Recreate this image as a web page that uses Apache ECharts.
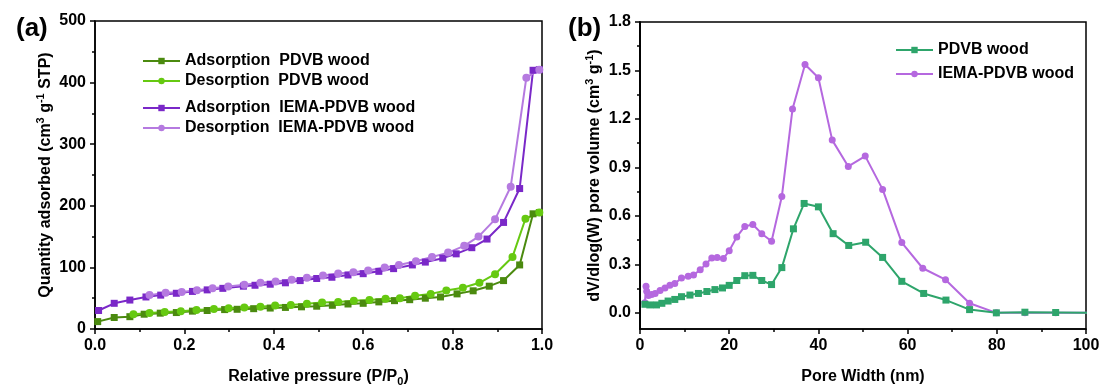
<!DOCTYPE html>
<html>
<head>
<meta charset="utf-8">
<script src="https://cdn.jsdelivr.net/npm/echarts@6/dist/echarts.min.js"></script>
<style>
html, body { margin: 0; padding: 0; background: #fff; }
#chart { width: 1103px; height: 392px; }
</style>
</head>
<body>
<div id="chart"></div>
<script>
// (a) isotherms, relative pressure vs quantity adsorbed
var pdvbAdsX = [0.006, 0.043, 0.078, 0.11, 0.146, 0.182, 0.218, 0.251, 0.29, 0.318, 0.355, 0.392, 0.426, 0.462, 0.496, 0.531, 0.566, 0.6, 0.635, 0.67, 0.704, 0.739, 0.773, 0.81, 0.846, 0.882, 0.914, 0.95, 0.98, 0.994]
var pdvbAdsY = [12, 18.7, 20, 24, 25.7, 26.7, 29, 30, 31.5, 32, 33, 34, 35, 36, 37, 38.5, 40.6, 41.7, 44, 46, 47.6, 50, 52, 57, 62, 69.5, 78.6, 104, 187, 189]
var pdvbDesX = [0.994, 0.963, 0.934, 0.895, 0.86, 0.823, 0.786, 0.751, 0.716, 0.682, 0.65, 0.614, 0.579, 0.544, 0.508, 0.474, 0.438, 0.403, 0.37, 0.334, 0.299, 0.266, 0.227, 0.192, 0.156, 0.122, 0.086]
var pdvbDesY = [189, 179, 117, 89, 75, 67, 62.5, 57, 54, 50, 49, 47, 46, 44, 43, 41, 39, 38, 36, 35, 33.7, 32.6, 31, 29, 27.8, 26, 24]
var iemaAdsX = [0.008, 0.043, 0.078, 0.114, 0.147, 0.182, 0.218, 0.251, 0.286, 0.332, 0.358, 0.392, 0.426, 0.459, 0.496, 0.53, 0.566, 0.6, 0.635, 0.668, 0.71, 0.739, 0.778, 0.808, 0.843, 0.877, 0.914, 0.95, 0.98, 0.994]
var iemaAdsY = [30, 41.7, 47, 52, 55, 58, 61, 63.5, 66, 69.5, 71, 72.7, 75, 78.6, 82, 84, 87.7, 89.8, 93.6, 98, 104, 108.6, 115, 122, 132, 146, 173, 228, 420, 421]
var iemaDesX = [0.994, 0.965, 0.93, 0.895, 0.858, 0.826, 0.79, 0.754, 0.718, 0.68, 0.648, 0.611, 0.578, 0.544, 0.51, 0.474, 0.44, 0.404, 0.37, 0.334, 0.298, 0.263, 0.228, 0.194, 0.158, 0.122]
var iemaDesY = [421, 408, 231, 178, 150, 135, 124, 117, 110, 104, 100, 95, 92, 90, 87, 83, 80, 77, 75, 72, 69, 66, 63, 60, 59, 55]

// (b) pore size distribution
var poreX1 = [1.1, 2.2, 3.7, 4.9, 6.3, 7.8, 9.3, 11.2, 13.1, 15, 16.8, 18.5, 20, 21.7, 23.5, 25.3, 27.3, 29.5, 31.8, 34.4, 36.8, 40, 43.3, 46.8, 50.6, 54.4, 58.7, 63.6, 68.6, 73.9, 79.9, 86.3, 93.2, 101]
var poreY1 = [0.053, 0.049, 0.049, 0.059, 0.073, 0.083, 0.1, 0.11, 0.12, 0.132, 0.144, 0.154, 0.17, 0.2, 0.23, 0.232, 0.2, 0.175, 0.28, 0.52, 0.677, 0.656, 0.49, 0.417, 0.437, 0.343, 0.195, 0.12, 0.079, 0.02, 0, 0.004, 0.002, 0]
var poreX2 = [1.1, 1.35, 1.5, 1.9, 2.6, 3.4, 4.5, 5.6, 6.7, 7.8, 9.3, 10.8, 12, 13.5, 14.8, 16.1, 17.3, 18.7, 20, 21.7, 23.5, 25.3, 27.3, 29.5, 31.8, 34.2, 37, 40, 43.1, 46.7, 50.5, 54.4, 58.7, 63.4, 68.5, 73.9, 79.9, 86.3, 93.2, 101]
var poreY2 = [0.063, 0.165, 0.134, 0.108, 0.114, 0.12, 0.138, 0.154, 0.17, 0.181, 0.215, 0.226, 0.234, 0.266, 0.303, 0.34, 0.343, 0.337, 0.384, 0.47, 0.535, 0.547, 0.49, 0.443, 0.72, 1.262, 1.537, 1.455, 1.069, 0.906, 0.97, 0.764, 0.435, 0.276, 0.205, 0.059, 0, 0, 0, 0]

var leftYTicks = [0, 100, 200, 300, 400, 500]
var rightYTicks = [0, 0.3, 0.6, 0.9, 1.2, 1.5, 1.8]
var rightYMinor = [0.15, 0.45, 0.75, 1.05, 1.35, 1.65]

var FONT = '"Liberation Sans", Arial, sans-serif'

function pairs (xs, ys) {
  var out = []
  for (var i = 0; i < xs.length; i++) out.push([xs[i], ys[i]])
  return out
}

var tickStyle = { color: '#000', fontFamily: FONT, fontWeight: 'bold', fontSize: 16 }
var nameRich = {
  sup: { fontSize: 11, fontWeight: 'bold', fontFamily: FONT, color: '#000', verticalAlign: 'top', lineHeight: 20 },
  sub: { fontSize: 11, fontWeight: 'bold', fontFamily: FONT, color: '#000', verticalAlign: 'bottom', lineHeight: 20 }
}
function nameStyle () {
  return { color: '#000', fontFamily: FONT, fontWeight: 'bold', fontSize: 16, lineHeight: 20, rich: nameRich }
}
var lineStyleAxis = { color: '#000', width: 1.5 }

function legendAt (name, left, top) {
  return {
    data: [name], left: left, top: top, orient: 'vertical', padding: 0,
    itemWidth: 37, itemHeight: 8, itemGap: 5,
    textStyle: { color: '#000', fontFamily: FONT, fontWeight: 'bold', fontSize: 16 }
  }
}

function lineSeries (name, data, color, symbol, xi, size) {
  return {
    name: name, type: 'line', data: data, xAxisIndex: xi, yAxisIndex: xi === 0 ? 0 : 1,
    symbol: symbol, symbolSize: size, clip: true,
    lineStyle: { color: color, width: 2 }, itemStyle: { color: color },
    emphasis: { disabled: true }, animation: false
  }
}

var chart = echarts.init(document.getElementById('chart'))
chart.setOption({
  backgroundColor: '#fff',
  animation: false,
  title: [
    { text: '(a)', left: 11, top: 11, textStyle: { fontFamily: FONT, fontWeight: 'bold', fontSize: 26, color: '#000' } },
    { text: '(b)', left: 563, top: 11, textStyle: { fontFamily: FONT, fontWeight: 'bold', fontSize: 26, color: '#000' } }
  ],
  legend: [
    legendAt('Adsorption  PDVB wood', 142, 53),
    legendAt('Desorption  PDVB wood', 142, 73),
    legendAt('Adsorption  IEMA-PDVB wood', 142, 100),
    legendAt('Desorption  IEMA-PDVB wood', 142, 120),
    legendAt('PDVB wood', 895, 42),
    legendAt('IEMA-PDVB wood', 895, 66)
  ],
  grid: [
    { left: 95, top: 21, width: 447, height: 312, show: true, borderColor: '#000', borderWidth: 1.5, backgroundColor: 'transparent' },
    { left: 640, top: 22, width: 446, height: 311, show: true, borderColor: '#000', borderWidth: 1.5, backgroundColor: 'transparent' }
  ],
  xAxis: [
    {
      gridIndex: 0, type: 'value', min: 0, max: 1, interval: 0.2,
      name: 'Relative pressure (P/P{sub|0})', nameLocation: 'middle', nameGap: 38, nameTextStyle: nameStyle(),
      axisLine: { lineStyle: lineStyleAxis },
      axisTick: { length: 5, lineStyle: lineStyleAxis },
      minorTick: { show: true, splitNumber: 2, length: 3, lineStyle: { color: '#000', width: 1.5 } },
      axisLabel: Object.assign({ margin: 9, formatter: function (v) { return v.toFixed(1) } }, tickStyle),
      splitLine: { show: false }
    },
    {
      gridIndex: 1, type: 'value', min: 0, max: 100, interval: 20,
      name: 'Pore Width (nm)', nameLocation: 'middle', nameGap: 38, nameTextStyle: nameStyle(),
      axisLine: { onZero: false, lineStyle: lineStyleAxis },
      axisTick: { length: 5, lineStyle: lineStyleAxis },
      minorTick: { show: true, splitNumber: 2, length: 3, lineStyle: { color: '#000', width: 1.5 } },
      axisLabel: Object.assign({ margin: 9 }, tickStyle),
      splitLine: { show: false }
    }
  ],
  yAxis: [
    {
      gridIndex: 0, type: 'value', min: 0, max: 500, interval: 100,
      name: 'Quantity adsorbed (cm{sup|3} g{sup|-1} STP)', nameLocation: 'middle', nameGap: 39, nameTextStyle: nameStyle(),
      axisLine: { lineStyle: lineStyleAxis },
      axisTick: { length: 5, lineStyle: lineStyleAxis, customValues: leftYTicks },
      minorTick: { show: true, splitNumber: 2, length: 3, lineStyle: { color: '#000', width: 1.5 } },
      axisLabel: Object.assign({ margin: 9, customValues: leftYTicks }, tickStyle),
      splitLine: { show: false }
    },
    {
      gridIndex: 1, type: 'value', min: -0.1, max: 1.8, position: 'left',
      name: 'dV/dlog(W) pore volume (cm{sup|3} g{sup|-1})', nameLocation: 'middle', nameGap: 34, nameTextStyle: nameStyle(),
      axisLine: { onZero: false, lineStyle: lineStyleAxis },
      axisTick: { length: 5, lineStyle: lineStyleAxis, customValues: rightYTicks },
      axisLabel: Object.assign({ margin: 9, customValues: rightYTicks, formatter: function (v) { return v.toFixed(1) } }, tickStyle),
      splitLine: { show: false }
    },
    {
      gridIndex: 1, type: 'value', min: -0.1, max: 1.8, position: 'left', offset: 0,
      axisLine: { show: true, onZero: false, lineStyle: lineStyleAxis },
      axisTick: { show: true, length: 3, lineStyle: lineStyleAxis, customValues: rightYMinor },
      axisLabel: { show: false },
      splitLine: { show: false }
    }
  ],
  series: [
    lineSeries('Adsorption  PDVB wood', pairs(pdvbAdsX, pdvbAdsY), '#4b8a0f', 'rect', 0, 7),
    lineSeries('Desorption  PDVB wood', pairs(pdvbDesX, pdvbDesY), '#66c911', 'circle', 0, 8),
    lineSeries('Adsorption  IEMA-PDVB wood', pairs(iemaAdsX, iemaAdsY), '#7a28c8', 'rect', 0, 7),
    lineSeries('Desorption  IEMA-PDVB wood', pairs(iemaDesX, iemaDesY), '#b57ae0', 'circle', 0, 8),
    lineSeries('IEMA-PDVB wood', pairs(poreX2, poreY2), '#b568df', 'circle', 1, 7),
    lineSeries('PDVB wood', pairs(poreX1, poreY1), '#2ea56b', 'rect', 1, 7)
  ]
})
</script>
</body>
</html>
